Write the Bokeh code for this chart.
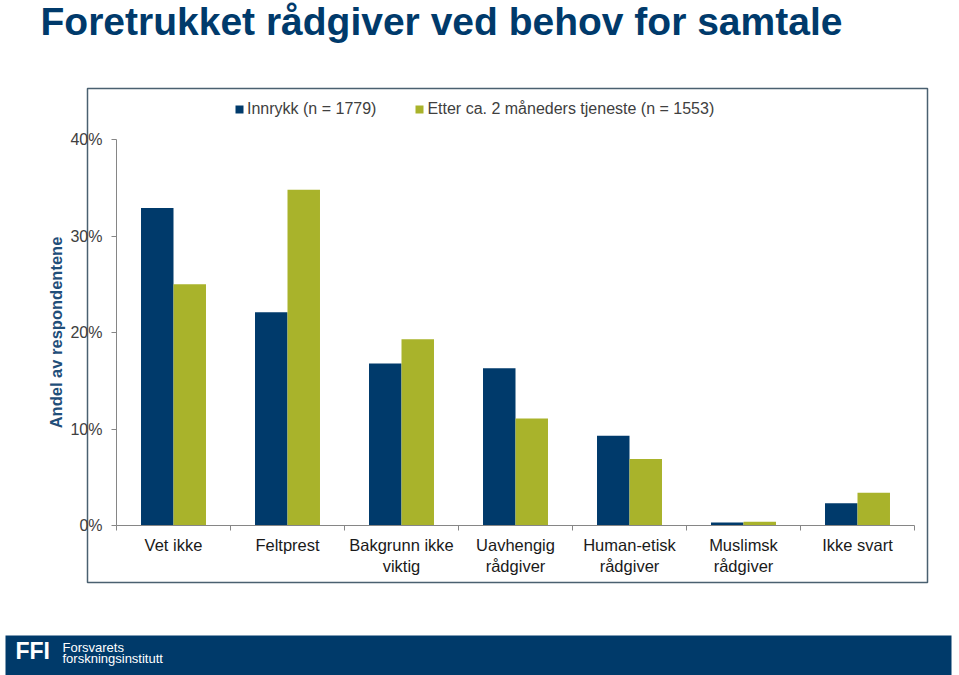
from bokeh.plotting import figure
from bokeh.models import (Range1d, LinearAxis, FixedTicker,
                          NumeralTickFormatter, ColumnDataSource, Legend, LegendItem,
                          Label, BoxAnnotation)
from bokeh.transform import dodge
from bokeh.embed import file_html
from bokeh.resources import INLINE

# ---- data ----
categories = ["Vet ikke", "Feltprest", "Bakgrunn ikke\nviktig", "Uavhengig\nrådgiver",
              "Human-etisk\nrådgiver", "Muslimsk\nrådgiver", "Ikke svart"]
innrykk = [0.329, 0.221, 0.168, 0.163, 0.093, 0.003, 0.023]
etter = [0.250, 0.348, 0.193, 0.111, 0.069, 0.004, 0.034]
series_labels = ["Innrykk (n = 1779)", "Etter ca. 2 måneders tjeneste (n = 1553)"]
y_ticks = [0.0, 0.1, 0.2, 0.3, 0.4]
title_text = "Foretrukket rådgiver ved behov for samtale"
y_label = "Andel av respondentene"

BLUE = "#003A6B"
GREEN = "#A9B32B"
FONT = "Liberation Sans"

# ---- layout (pixels) ----
W, H = 959, 675
AX_L, AX_R = 116, 914      # x pixel of category 0 start / category n end
AX_B, AX_T = 525, 139      # y pixel of 0% and 40%
n = len(categories)
ymax = y_ticks[-1]
upx = n / (AX_R - AX_L)
upy = ymax / (AX_B - AX_T)
x_range = Range1d(-AX_L * upx, n + (W - AX_R) * upx)
y_range = Range1d(-(H - AX_B) * upy, ymax + AX_T * upy)

centers = [i + 0.5 for i in range(n)]
src = ColumnDataSource(dict(pos=centers, a=innrykk, b=etter))

p = figure(width=W, height=H, x_range=x_range, y_range=y_range,
           x_axis_type=None, y_axis_type=None, output_backend="svg", toolbar_location=None,
           min_border=0)
p.outline_line_color = None
p.xgrid.visible = False
p.ygrid.visible = False
p.background_fill_color = "white"
p.border_fill_color = "white"

r1 = p.vbar(x=dodge("pos", -0.1425), top="a", width=0.285, source=src,
            fill_color=BLUE, line_color=None)
r2 = p.vbar(x=dodge("pos", 0.1425), top="b", width=0.285, source=src,
            fill_color=GREEN, line_color=None)

# y axis
yax = LinearAxis(ticker=FixedTicker(ticks=y_ticks), formatter=NumeralTickFormatter(format="0%"),
                 fixed_location=0, bounds=(0, ymax))
yax.axis_line_color = "#868686"
yax.major_tick_line_color = "#868686"
yax.major_tick_out = 5
yax.major_tick_in = 0
yax.minor_tick_line_color = None
yax.major_label_text_font = FONT
yax.major_label_text_font_size = "16px"
yax.major_label_text_color = "#404040"
yax.major_label_standoff = 9
yax.axis_label = y_label
yax.axis_label_text_font = FONT
yax.axis_label_text_font_size = "16.5px"
yax.axis_label_text_font_style = "bold"
yax.axis_label_text_color = "#1F4E79"
yax.axis_label_standoff = 2
p.add_layout(yax, "left")

# x axis: labels at category centres, tick marks at category boundaries (minor ticks)
xax = LinearAxis(ticker=FixedTicker(ticks=centers, minor_ticks=list(range(n + 1))),
                 major_label_overrides={c: lab for c, lab in zip(centers, categories)},
                 fixed_location=0, bounds=(0, n))
xax.axis_line_color = "#868686"
xax.major_tick_line_color = None
xax.major_tick_out = 0
xax.major_tick_in = 0
xax.minor_tick_line_color = "#868686"
xax.minor_tick_out = 5
xax.minor_tick_in = 0
xax.major_label_text_font = FONT
xax.major_label_text_font_size = "16.5px"
xax.major_label_text_color = "#1A1A1A"
xax.major_label_standoff = 5
p.add_layout(xax, "below")

# chart border box (screen units, origin at bottom-left of canvas)
p.add_layout(BoxAnnotation(left=87, right=927, bottom=H - 582, top=H - 88,
                           left_units="screen", right_units="screen",
                           top_units="screen", bottom_units="screen",
                           fill_alpha=0, line_color="#4A6070", line_alpha=1.0,
                           line_width=1.5, level="underlay"))

# footer band
p.add_layout(BoxAnnotation(left=5, right=951, bottom=-10, top=H - 635,
                           left_units="screen", right_units="screen",
                           top_units="screen", bottom_units="screen",
                           fill_color="#003A6A", fill_alpha=1, line_color=None))
p.add_layout(Label(x=15, y=H - 650, x_units="screen", y_units="screen", text="FFI",
                   text_font=FONT, text_font_size="23px", text_font_style="bold",
                   text_color="white", text_baseline="alphabetic"))
p.add_layout(Label(x=62, y=H - 647, x_units="screen", y_units="screen", text="Forsvarets",
                   text_font=FONT, text_font_size="13px", text_color="white",
                   text_baseline="alphabetic"))
p.add_layout(Label(x=62, y=H - 658, x_units="screen", y_units="screen", text="forskningsinstitutt",
                   text_font=FONT, text_font_size="13px", text_color="white",
                   text_baseline="alphabetic"))

# title
p.add_layout(Label(x=40, y=H - 21, x_units="screen", y_units="screen", text=title_text,
                   text_font=FONT, text_font_size="39px", text_font_style="bold",
                   text_color=BLUE, text_baseline="alphabetic"))

# legend
legend = Legend(items=[LegendItem(label=series_labels[0], renderers=[r1]),
                       LegendItem(label=series_labels[1], renderers=[r2])],
                location=(234, H - 118), orientation="horizontal",
                glyph_width=10, glyph_height=10, label_height=10, label_standoff=3,
                spacing=38, padding=0, margin=0, border_line_color=None,
                background_fill_alpha=0, label_text_font=FONT, label_text_font_size="16px",
                label_text_color="#404040")
p.add_layout(legend)

open("out.html", "w").write(file_html(p, INLINE))
